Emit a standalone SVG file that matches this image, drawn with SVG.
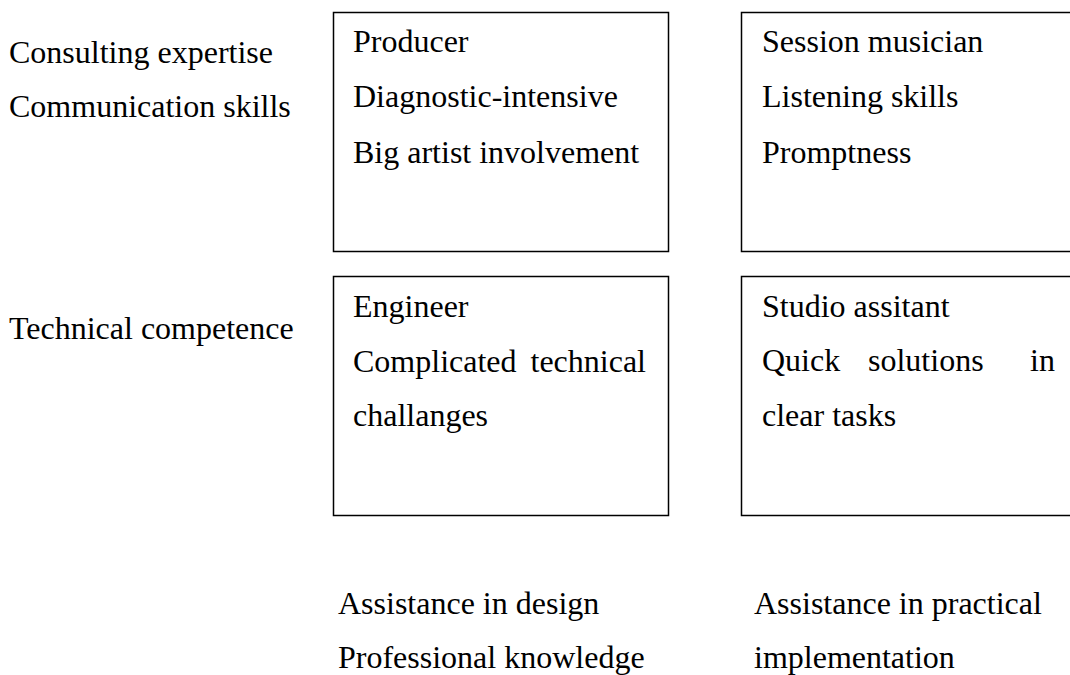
<svg xmlns="http://www.w3.org/2000/svg" width="1070" height="675" viewBox="0 0 1070 675">
  <style>
    text { font-family: "Liberation Serif", "Times New Roman", serif; font-size: 32px; fill: #000; }
    .box { fill: #fff; stroke: #000; stroke-width: 1.5; }
  </style>
  <rect x="0" y="0" width="1070" height="675" fill="#fff"/>

  <!-- row labels -->
  <g id="label-consulting">
    <text x="9" y="63">Consulting expertise</text>
    <text x="9" y="117">Communication skills</text>
  </g>
  <g id="label-technical">
    <text x="9" y="339">Technical competence</text>
  </g>

  <!-- quadrant boxes -->
  <g id="producer">
    <rect class="box" x="333.5" y="12.5" width="335" height="239"/>
    <text x="353" y="52">Producer</text>
    <text x="353" y="107">Diagnostic-intensive</text>
    <text x="353" y="163">Big artist involvement</text>
  </g>
  <g id="session-musician">
    <rect class="box" x="741.5" y="12.5" width="340" height="239"/>
    <text x="762" y="52">Session musician</text>
    <text x="762" y="107">Listening skills</text>
    <text x="762" y="163">Promptness</text>
  </g>
  <g id="engineer">
    <rect class="box" x="333.5" y="276.5" width="335" height="239"/>
    <text x="353" y="317">Engineer</text>
    <text x="353" y="372">Complicated</text>
    <text x="646" y="372" text-anchor="end">technical</text>
    <text x="353" y="426">challanges</text>
  </g>
  <g id="studio-assistant">
    <rect class="box" x="741.5" y="276.5" width="340" height="239"/>
    <text x="762" y="317">Studio assitant</text>
    <text x="762" y="371">Quick</text>
    <text x="868" y="371">solutions</text>
    <text x="1055" y="371" text-anchor="end">in</text>
    <text x="762" y="426">clear tasks</text>
  </g>

  <!-- column labels -->
  <g id="label-design">
    <text x="338" y="614">Assistance in design</text>
    <text x="338" y="668">Professional knowledge</text>
  </g>
  <g id="label-implementation">
    <text x="754" y="614">Assistance in practical</text>
    <text x="754" y="668">implementation</text>
  </g>

  <g id="connectors"></g>
</svg>
